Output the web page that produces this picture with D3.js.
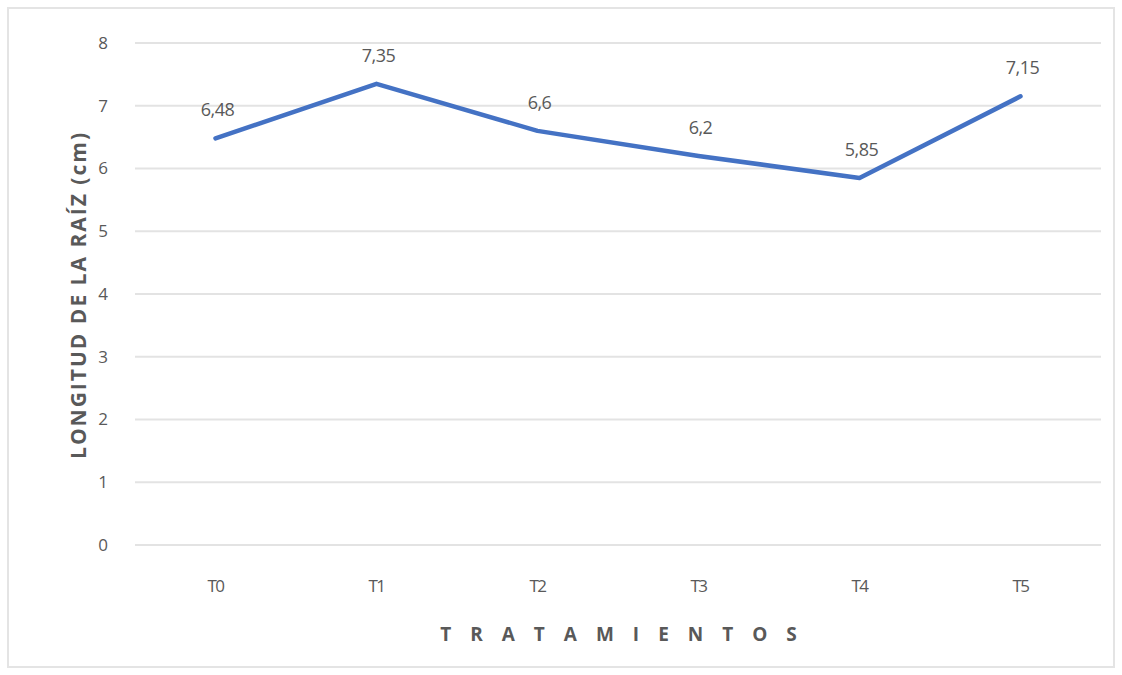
<!DOCTYPE html>
<html>
<head>
<meta charset="utf-8">
<script src="https://cdn.jsdelivr.net/npm/d3@7"></script>
<style>
  html, body { margin: 0; padding: 0; background: #fff; }
  svg { display: block; font-family: "Open Sans", "Noto Sans", sans-serif; }
</style>
</head>
<body>
<svg id="chart" width="1122" height="675"></svg>
<script>
// Root length per treatment
const categories = ["T0", "T1", "T2", "T3", "T4", "T5"];
const rootLength = [6.48, 7.35, 6.6, 6.2, 5.85, 7.15];
const valueLabels = ["6,48", "7,35", "6,6", "6,2", "5,85", "7,15"];
const yTicks = [0, 1, 2, 3, 4, 5, 6, 7, 8];

const svg = d3.select("#chart");
const W = 1122, H = 675;

// outer frame
svg.append("rect")
  .attr("x", 8).attr("y", 8).attr("width", W - 16).attr("height", H - 16)
  .attr("fill", "#fff").attr("stroke", "#e4e4e4").attr("stroke-width", 2);

const plot = { left: 135, right: 1101, top: 43, bottom: 545 };

const x = d3.scaleBand().domain(categories).range([plot.left, plot.right]);
const y = d3.scaleLinear().domain([0, 8]).range([plot.bottom, plot.top]);

// horizontal gridlines
svg.append("g").selectAll("line").data(yTicks).join("line")
  .attr("x1", plot.left).attr("x2", plot.right)
  .attr("y1", d => y(d)).attr("y2", d => y(d))
  .attr("stroke", "#e3e3e3").attr("stroke-width", 2);

// y axis tick labels
const yAxis = svg.append("g")
  .attr("transform", `translate(${plot.left - 32},0)`)
  .call(d3.axisLeft(y).tickValues(yTicks).tickSize(0).tickPadding(0));
yAxis.select(".domain").remove();
yAxis.selectAll("text")
  .attr("font-size", 17).attr("fill", "#595959")
  .attr("font-family", "\"Open Sans\", sans-serif")
  .attr("text-anchor", "middle");

// x axis tick labels
const xAxis = svg.append("g")
  .attr("transform", `translate(0,${plot.bottom})`)
  .call(d3.axisBottom(x).tickSize(0).tickPadding(35));
xAxis.select(".domain").remove();
xAxis.selectAll("text")
  .attr("font-size", 17).attr("fill", "#595959")
  .attr("font-family", "\"Open Sans\", sans-serif")
  .attr("letter-spacing", "-1.5px");

// axis titles
svg.append("text")
  .attr("transform", "translate(86,295) rotate(-90)")
  .attr("text-anchor", "middle")
  .attr("font-size", 21).attr("font-weight", "bold").attr("fill", "#595959")
  .attr("letter-spacing", "2px")
  .text("LONGITUD DE LA RAÍZ (cm)");

svg.append("text")
  .attr("x", 628).attr("y", 641)
  .attr("text-anchor", "middle")
  .attr("font-size", 19).attr("font-weight", "bold").attr("fill", "#595959")
  .attr("letter-spacing", "19px")
  .text("TRATAMIENTOS");

// data line
const cx = c => x(c) + x.bandwidth() / 2;
const line = d3.line()
  .x((d, i) => cx(categories[i]))
  .y(d => y(d));

svg.append("path")
  .datum(rootLength)
  .attr("d", line)
  .attr("fill", "none")
  .attr("stroke", "#4472C4")
  .attr("stroke-width", 4.5)
  .attr("stroke-linejoin", "round")
  .attr("stroke-linecap", "round");

// data labels
svg.append("g").selectAll("text").data(rootLength).join("text")
  .attr("x", (d, i) => cx(categories[i]) + 2)
  .attr("y", d => y(d) - 22)
  .attr("text-anchor", "middle")
  .attr("font-size", 18).attr("fill", "#595959")
  .attr("letter-spacing", "-0.5px")
  .text((d, i) => valueLabels[i]);
</script>
</body>
</html>
